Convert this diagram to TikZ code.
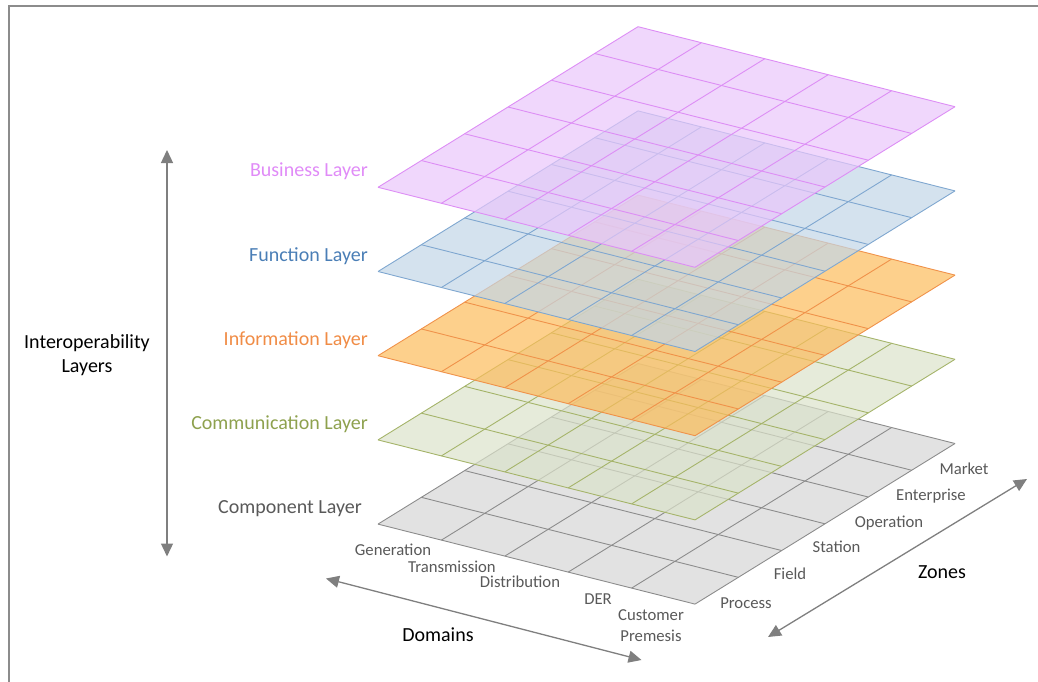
\documentclass[tikz,border=0pt]{standalone}
\usepackage{fontspec}
\setmainfont{Carlito}
\usetikzlibrary{arrows.meta}

% layer fills (drawn translucent) and grid strokes
\definecolor{busFill}{RGB}{234,198,251}
\definecolor{funcFill}{RGB}{194,214,231}
\definecolor{infoFill}{RGB}{252,188,91}
\definecolor{commFill}{RGB}{219,226,202}
\definecolor{compFill}{RGB}{214,214,214}
\definecolor{busLine}{RGB}{221,142,245}
\definecolor{funcLine}{RGB}{127,167,208}
\definecolor{infoLine}{RGB}{240,146,74}
\definecolor{commLine}{RGB}{165,180,106}
\definecolor{compLine}{RGB}{140,140,140}
% label colours
\definecolor{busText}{RGB}{224,139,247}
\definecolor{funcText}{RGB}{74,126,182}
\definecolor{infoText}{RGB}{240,140,70}
\definecolor{commText}{RGB}{142,161,78}
\definecolor{compText}{RGB}{89,89,89}
\definecolor{labelgray}{RGB}{89,89,89}
\definecolor{arrowgray}{RGB}{127,127,127}
\definecolor{framegray}{RGB}{140,140,140}

\begin{document}
\begin{tikzpicture}[x=1pt,y=-1pt,
  inner sep=0pt,
  big/.style={font=\fontsize{20}{24}\selectfont},
  small/.style={font=\fontsize{16.7}{21}\selectfont, text=labelgray},
  layerlabel/.style={big, anchor=mid east},
  gridline/.style={line width=0.9pt},
  axis/.style={draw=arrowgray, line width=1.3pt,
    {Triangle[length=13pt,width=12pt]}-{Triangle[length=13pt,width=12pt]}}
]
\useasboundingbox (0,0) rectangle (1038,682);

% outer frame (only its top and left sides fall inside the page)
\begin{scope}
  \clip (0,0) rectangle (1038,682);
  \draw[framegray, line width=2pt] (9,720) -- (9,6.5) -- (1060,6.5);
\end{scope}

% the five stacked layers, bottom first: 5 domains x 6 zones each
\foreach \k/\fc/\lc in {4/compFill/compLine, 3/commFill/commLine,
                        2/infoFill/infoLine, 1/funcFill/funcLine,
                        0/busFill/busLine}{
  \begin{scope}[shift={(378,187.3+84.2*\k)}]
    \fill[\fc, fill opacity=0.7] (0,0) -- ++(317,80) -- ++(260,-160.6)
          -- ++(-317,-80) -- cycle;
    \foreach \i in {0,...,5}
      \draw[\lc, gridline] (\i*63.4,\i*16) -- ++(260,-160.6);
    \foreach \j in {0,...,6}
      \draw[\lc, gridline] (\j*43.333,-\j*26.767) -- ++(317,80);
  \end{scope}
}

% layer names
\node[layerlabel, text=busText]  (lblBus)  at (368,174.5) {Business Layer};
\node[layerlabel, text=funcText] (lblFunc) at (368,259.5) {Function Layer};
\node[layerlabel, text=infoText] (lblInfo) at (368,343.5) {Information Layer};
\node[layerlabel, text=commText] (lblComm) at (368,427.5) {Communication Layer};
\node[layerlabel, text=compText] (lblComp) at (362,511.5) {Component Layer};

% interoperability axis
\node[big, align=center] (lblIop) at (87,355) {Interoperability\\Layers};
\coordinate (vTop) at (167,150);
\coordinate (vBot) at (167,556.5);
\draw[axis] (vTop) -- (vBot);

% domains
\node[small, anchor=mid] (dGen)   at (393,553) {Generation};
\node[small, anchor=mid] (dTrans) at (452,570) {Transmission};
\node[small, anchor=mid] (dDist)  at (520,585) {Distribution};
\node[small, anchor=mid] (dDER)   at (598,602) {DER};
\node[small, align=center] (dCust) at (651,626) {Customer\\Premesis};
\node[big, anchor=mid] (lblDom) at (438,639.5) {Domains};
\coordinate (hLeft)  at (326,578.5);
\coordinate (hRight) at (641.5,660);
\draw[axis] (hLeft) -- (hRight);

% zones
\node[small, anchor=mid] (zProc)  at (746,606) {Process};
\node[small, anchor=mid] (zField) at (790,577) {Field};
\node[small, anchor=mid] (zStat)  at (836.5,550) {Station};
\node[small, anchor=mid] (zOper)  at (889,525) {Operation};
\node[small, anchor=mid] (zEnt)   at (931,498) {Enterprise};
\node[small, anchor=mid] (zMark)  at (964,472) {Market};
\node[big, anchor=mid] (lblZone) at (942,576.5) {Zones};
\coordinate (zLow)  at (768,637);
\coordinate (zHigh) at (1027,479);
\draw[axis] (zLow) -- (zHigh);
\end{tikzpicture}
\end{document}
